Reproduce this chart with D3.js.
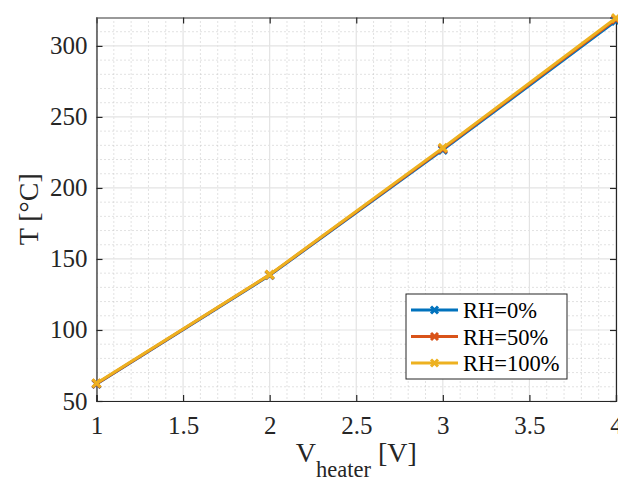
<!DOCTYPE html>
<html>
<head>
<meta charset="utf-8">
<script src="https://cdn.jsdelivr.net/npm/d3@7"></script>
<style>
  body { margin: 0; background: #fff; }
  svg { display: block; font-family: "Liberation Serif", "Times New Roman", serif; }
  svg text { font-family: "Liberation Serif", "Times New Roman", serif; }
</style>
</head>
<body>
<div id="chart"></div>
<script>
// data
const voltages = [1, 2, 3, 4];
const seriesNames = ["RH=0%", "RH=50%", "RH=100%"];
const rh0 = [62.0, 138.5, 226.8, 317.6];
const rh50 = [62.2, 138.8, 227.5, 318.7];
const rh100 = [62.5, 139.0, 228.2, 319.6];
const colors = ["#0072BD", "#D95319", "#EDB120"];
const xTicks = [1, 1.5, 2, 2.5, 3, 3.5, 4];
const yTicks = [50, 100, 150, 200, 250, 300];

const W = 618, H = 482;
const margin = {top: 17.5, right: 2, bottom: 81, left: 96.5};
const innerW = W - margin.left - margin.right,
    innerH = H - margin.top - margin.bottom;

const x = d3.scaleLinear().domain([1, 4]).range([0, innerW]);
const y = d3.scaleLinear().domain([50, 320]).range([innerH, 0]);

const svg = d3.select("#chart").append("svg")
    .attr("width", W)
    .attr("height", H);

const g = svg.append("g")
    .attr("transform", "translate(" + margin.left + "," + margin.top + ")");

// minor grid (dotted)
const xMinor = d3.range(1, 4.0001, 0.1).filter(v => Math.abs(v*2 - Math.round(v*2)) > 1e-6);
const yMinor = d3.range(50, 321, 10).filter(v => v % 50 !== 0);
g.selectAll(".xminor").data(xMinor).join("line")
    .attr("x1", d => x(d)).attr("x2", d => x(d))
    .attr("y1", 0).attr("y2", innerH)
    .attr("stroke", "#c4c4c4").attr("stroke-width", 1)
    .attr("stroke-dasharray", "1,3");
g.selectAll(".yminor").data(yMinor).join("line")
    .attr("x1", 0).attr("x2", innerW)
    .attr("y1", d => y(d)).attr("y2", d => y(d))
    .attr("stroke", "#c4c4c4").attr("stroke-width", 1)
    .attr("stroke-dasharray", "1,3");

// major grid
g.selectAll(".xgrid").data(xTicks).join("line")
    .attr("x1", d => x(d)).attr("x2", d => x(d))
    .attr("y1", 0).attr("y2", innerH)
    .attr("stroke", "#e3e3e3").attr("stroke-width", 1.2);
g.selectAll(".ygrid").data(yTicks).join("line")
    .attr("x1", 0).attr("x2", innerW)
    .attr("y1", d => y(d)).attr("y2", d => y(d))
    .attr("stroke", "#e3e3e3").attr("stroke-width", 1.2);

// axes
const axisColor = "#262626";
const xAxis = g.append("g")
    .attr("transform", "translate(0," + innerH + ")")
    .call(d3.axisBottom(x).tickValues(xTicks).tickSize(-6).tickPadding(15).tickFormat(d3.format("")));
const yAxis = g.append("g")
    .call(d3.axisLeft(y).tickValues(yTicks).tickSize(-6).tickPadding(9).tickFormat(d3.format("")));
const xTop = g.append("g")
    .call(d3.axisTop(x).tickValues(xTicks).tickSize(-6).tickFormat(""));
const yRight = g.append("g")
    .attr("transform", "translate(" + innerW + ",0)")
    .call(d3.axisRight(y).tickValues(yTicks).tickSize(-6).tickFormat(""));

[xAxis, yAxis, xTop, yRight].forEach(a => {
  a.attr("font-family", null).attr("font-size", null);
  a.select(".domain").attr("stroke", axisColor).attr("stroke-width", 1.2);
  a.selectAll(".tick line").attr("stroke", axisColor).attr("stroke-width", 1.2);
  a.selectAll(".tick text")
      .attr("fill", axisColor)
      .style("font-family", "'Liberation Serif', 'Times New Roman', serif")
      .style("font-size", "25px")
      .style("font-weight", "normal");
});
xTop.select(".domain").attr("stroke", "#999").attr("stroke-width", 2);

// series lines
const series = [rh0, rh50, rh100];
const line = d3.line()
    .x((d, i) => x(voltages[i]))
    .y(d => y(d));

series.forEach((s, k) => {
  g.append("path")
      .datum(s)
      .attr("fill", "none")
      .attr("stroke", colors[k])
      .attr("stroke-width", 3)
      .attr("d", line);
  g.selectAll(".mk" + k).data(s).join("path")
      .attr("transform", (d, i) => "translate(" + x(voltages[i]) + "," + y(d) + ")")
      .attr("d", "M-4,-4L4,4M-4,4L4,-4")
      .attr("stroke", colors[k])
      .attr("stroke-width", 3);
});

// axis labels
svg.append("text")
    .attr("transform", "translate(38," + (margin.top + innerH/2) + ") rotate(-90)")
    .attr("text-anchor", "middle")
    .attr("fill", axisColor)
    .style("font-size", "28px")
    .text("T [°C]");

const xl = svg.append("text")
    .attr("x", margin.left + innerW/2)
    .attr("y", 462)
    .attr("text-anchor", "middle")
    .attr("fill", axisColor)
    .style("font-size", "28px");
xl.append("tspan").text("V");
xl.append("tspan").attr("dy", 15).style("font-size", "22.5px").text("heater");
xl.append("tspan").attr("dy", -15).text(" [V]");

// legend
const lg = svg.append("g").attr("transform", "translate(406,294)");
lg.append("rect")
    .attr("width", 161).attr("height", 85)
    .attr("fill", "#fff")
    .attr("stroke", axisColor).attr("stroke-width", 1);
seriesNames.forEach((name, k) => {
  const cy = 16 + k*26.5;
  lg.append("line")
      .attr("x1", 5).attr("x2", 52)
      .attr("y1", cy).attr("y2", cy)
      .attr("stroke", colors[k]).attr("stroke-width", 3);
  lg.append("path")
      .attr("transform", "translate(" + 28.5 + "," + cy + ")")
      .attr("d", "M-3.5,-3.5L3.5,3.5M-3.5,3.5L3.5,-3.5")
      .attr("stroke", colors[k]).attr("stroke-width", 3);
  lg.append("text")
      .attr("x", 57).attr("y", cy + 8)
      .attr("fill", "#000")
      .style("font-size", "22.5px")
      .text(name);
});
</script>
</body>
</html>
